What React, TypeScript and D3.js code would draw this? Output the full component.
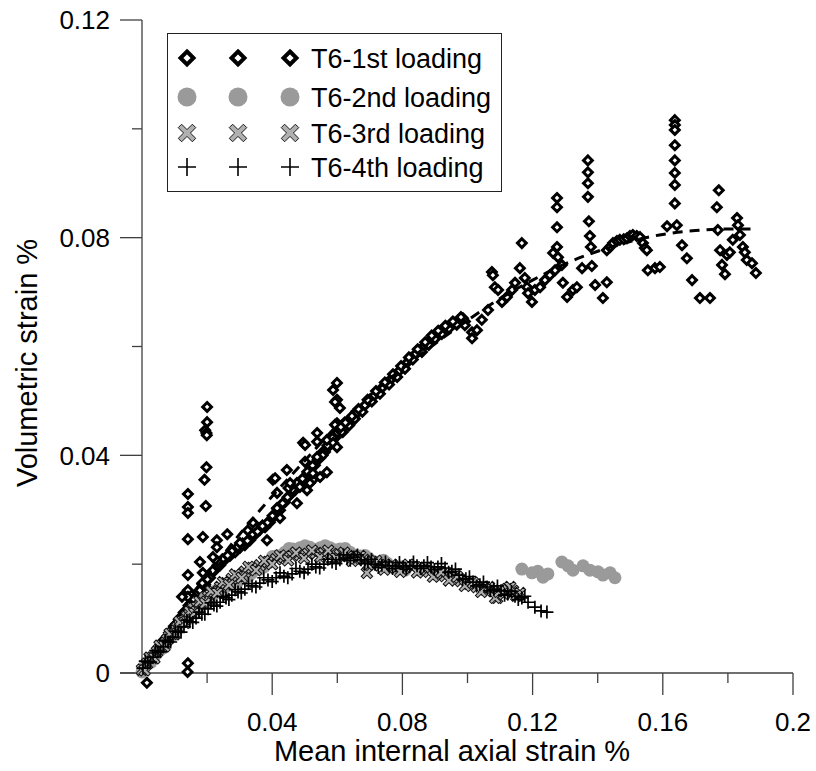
import React from "react";
import * as d3 from "d3";

// ---------- data ----------
const seriesNames = ["T6-1st loading", "T6-2nd loading", "T6-3rd loading", "T6-4th loading"];

const xMajorTicks = [0.04, 0.08, 0.12, 0.16, 0.2];
const xMinorTicks = [0.02, 0.06, 0.1, 0.14, 0.18];
const xTickLabels = ["0.04", "0.08", "0.12", "0.16", "0.2"];
const yMajorTicks = [0, 0.04, 0.08, 0.12];
const yMinorTicks = [0.02, 0.06, 0.1];
const yTickLabels = ["0", "0.04", "0.08", "0.12"];

// T6-1st loading (diamonds)
const load1X = [
  0.0015, 0.0005, 0.0015, 0.003, 0.0045, 0.006, 0.0075, 0.009, 0.0105, 0.012, 0.0135, 0.015, 0.0165, 0.018, 0.014, 0.0141,
  0.001, 0.0022, 0.0038, 0.0052, 0.0068, 0.0083, 0.0098, 0.0113, 0.0128, 0.0143, 0.0158, 0.0172,
  0.0178, 0.0194, 0.0209, 0.0224, 0.024, 0.0255, 0.027, 0.0286, 0.0301, 0.0316, 0.0332, 0.0347, 0.0362, 0.0378, 0.0393,
  0.0409, 0.0424, 0.0439, 0.0455, 0.047, 0.0485, 0.0501, 0.0516, 0.0531, 0.0547, 0.0562, 0.0578, 0.0593,
  0.0186, 0.0217, 0.0247, 0.0278, 0.0309, 0.034, 0.037, 0.0401, 0.0432, 0.0462, 0.0493, 0.0524, 0.0555, 0.0585, 0.06,
  0.0201, 0.0232, 0.0263, 0.0293, 0.0324, 0.0355, 0.0385, 0.0416, 0.0447, 0.0478, 0.0509, 0.054, 0.057,
  0.0185, 0.0232, 0.0262, 0.0295, 0.0325, 0.037, 0.0415, 0.045, 0.0508, 0.0555,
  0.02, 0.02, 0.0194, 0.0198, 0.0199, 0.0198, 0.0192, 0.0196, 0.0187, 0.0178, 0.0187,
  0.0141, 0.0141, 0.0141, 0.0141, 0.0141, 0.0141, 0.0141, 0.0141, 0.0123,
  0.0402, 0.0445, 0.0415, 0.0476, 0.0495, 0.0501, 0.0538, 0.0538, 0.0547, 0.0568, 0.0587, 0.0599, 0.0599, 0.0599, 0.0587,
  0.0476, 0.0507, 0.0525, 0.0384, 0.0341, 0.0415, 0.0301, 0.023, 0.023, 0.0218, 0.0593, 0.0608, 0.0593, 0.0617, 0.0501,
  0.0568, 0.0599, 0.0409, 0.0525, 0.0455, 0.0485, 0.0516, 0.0424, 0.0538,
  0.0608, 0.0619, 0.063, 0.0639, 0.0648, 0.0659, 0.067, 0.0685, 0.07, 0.0712, 0.0725, 0.0739, 0.0753, 0.0765, 0.0777,
  0.079, 0.0802, 0.0814, 0.0826, 0.084, 0.0854, 0.0865, 0.0875, 0.0885, 0.0894, 0.0905, 0.0915, 0.0926, 0.0937, 0.0949,
  0.0961, 0.0974, 0.0986,
  0.0614, 0.0636, 0.0654, 0.0677, 0.0706, 0.0731, 0.0759, 0.0784, 0.0808, 0.0832, 0.086, 0.0881, 0.09, 0.0921, 0.0943,
  0.0967, 0.0992,
  0.0611, 0.0625, 0.0645, 0.0665, 0.0693, 0.0719, 0.0746, 0.0771, 0.0796, 0.082, 0.0847, 0.087, 0.089, 0.091, 0.0932,
  0.0955, 0.098,
  0.0992, 0.1014, 0.1029, 0.1014, 0.1044, 0.1063, 0.1075, 0.1078, 0.1084, 0.1094, 0.1106, 0.1121, 0.1137, 0.1146, 0.1161,
  0.1167, 0.1176, 0.1183, 0.1186, 0.1198, 0.1207, 0.1223, 0.1238, 0.1253, 0.1269, 0.1263, 0.1275, 0.1275, 0.1275, 0.1275,
  0.1278, 0.129, 0.1293, 0.1306, 0.1324, 0.1336, 0.1352, 0.137, 0.137, 0.137, 0.137, 0.1373, 0.1376, 0.1379, 0.1382,
  0.1392, 0.1416, 0.1428,
  0.1428, 0.1438, 0.1447, 0.1459, 0.1468, 0.148, 0.149, 0.1499, 0.1508, 0.152, 0.153, 0.1539, 0.1545, 0.1551,
  0.1554, 0.1576, 0.1591, 0.1613, 0.1643, 0.1659, 0.1674, 0.169, 0.1714, 0.1745,
  0.1637, 0.1637, 0.1637, 0.1637, 0.1637, 0.1637, 0.1637, 0.1637,
  0.1772, 0.1766, 0.1769, 0.1776, 0.1782, 0.1791, 0.1797, 0.1806, 0.1815, 0.1828, 0.1831, 0.1837, 0.1846, 0.1852, 0.1858,
  0.1874, 0.1886,
];
const load1Y = [
  -0.0018, 0.0004, 0.0015, 0.0027, 0.004, 0.0052, 0.0065, 0.0077, 0.009, 0.0102, 0.0115, 0.0128, 0.014, 0.0152, 0.0002, 0.0018,
  0.0012, 0.0024, 0.0036, 0.0049, 0.0061, 0.0074, 0.0086, 0.0099, 0.0111, 0.0124, 0.0136, 0.0148,
  0.0152, 0.0162, 0.0175, 0.0189, 0.0198, 0.0208, 0.0215, 0.0222, 0.023, 0.0235, 0.0244, 0.0254, 0.0263, 0.0268, 0.0277,
  0.029, 0.0299, 0.0314, 0.0327, 0.0336, 0.0345, 0.0358, 0.0369, 0.0382, 0.0395, 0.0406, 0.0419, 0.0432,
  0.0163, 0.0188, 0.0209, 0.0225, 0.0238, 0.0255, 0.0271, 0.0289, 0.0312, 0.0337, 0.0357, 0.0381, 0.0406, 0.0432, 0.0442,
  0.0172, 0.0198, 0.0216, 0.023, 0.0243, 0.026, 0.0276, 0.0296, 0.0323, 0.0345, 0.0368, 0.0393, 0.0418,
  0.0165, 0.0205, 0.0255, 0.0232, 0.0262, 0.027, 0.0302, 0.034, 0.037, 0.04,
  0.0489, 0.0461, 0.0446, 0.0441, 0.0437, 0.0378, 0.0355, 0.0307, 0.025, 0.0204, 0.0184,
  0.0329, 0.0305, 0.0294, 0.0246, 0.018, 0.0152, 0.014, 0.0116, 0.014,
  0.0355, 0.0373, 0.0331, 0.0349, 0.0423, 0.0388, 0.0441, 0.0397, 0.036, 0.0369, 0.0423, 0.0459, 0.0502, 0.0533, 0.052,
  0.0312, 0.0336, 0.0355, 0.0244, 0.0276, 0.0303, 0.0239, 0.0244, 0.0231, 0.0213, 0.0498, 0.0487, 0.0456, 0.0443, 0.0419,
  0.0428, 0.0415, 0.0358, 0.0367, 0.0349, 0.0342, 0.0349, 0.0285, 0.0425,
  0.0446, 0.0452, 0.0459, 0.0464, 0.047, 0.0477, 0.0483, 0.0492, 0.0502, 0.0509, 0.0516, 0.0525, 0.0533, 0.054, 0.0547,
  0.0555, 0.0562, 0.057, 0.0579, 0.0586, 0.0593, 0.06, 0.0606, 0.0612, 0.0617, 0.0622, 0.0626, 0.0631, 0.0636, 0.064,
  0.0643, 0.0648, 0.0652,
  0.0443, 0.0455, 0.0467, 0.048, 0.0499, 0.0513, 0.053, 0.0544, 0.0559, 0.0576, 0.059, 0.0603, 0.0614, 0.0623, 0.0633,
  0.064, 0.0646,
  0.0452, 0.046, 0.0472, 0.0485, 0.0502, 0.0518, 0.0534, 0.0549, 0.0564, 0.058, 0.0595, 0.0608, 0.062, 0.0629, 0.0638,
  0.0646, 0.0654,
  0.0639, 0.0626, 0.063, 0.0615, 0.0649, 0.0667, 0.0737, 0.0731, 0.0709, 0.0704, 0.0682, 0.0691, 0.0704, 0.0717, 0.0744,
  0.079, 0.0726, 0.0709, 0.0698, 0.0682, 0.0704, 0.0709, 0.0722, 0.0731, 0.074, 0.0772, 0.0783, 0.0819, 0.0856, 0.0873,
  0.0764, 0.075, 0.0717, 0.0691, 0.0704, 0.0709, 0.0744, 0.0875, 0.09, 0.092, 0.0942, 0.083, 0.0803, 0.0783, 0.0748,
  0.0713, 0.0689, 0.0718,
  0.0777, 0.0783, 0.079, 0.0794, 0.0796, 0.0797, 0.0799, 0.0803, 0.0805, 0.0803, 0.0801, 0.079, 0.0781, 0.0777,
  0.074, 0.0744, 0.0746, 0.0821, 0.0823, 0.0786, 0.0762, 0.0722, 0.0689, 0.0689,
  0.1016, 0.1007, 0.0998, 0.097, 0.0942, 0.0919, 0.0897, 0.0863,
  0.0887, 0.0856, 0.0814, 0.0777, 0.075, 0.0733, 0.0768, 0.0773, 0.0796, 0.0836, 0.0823, 0.0805, 0.0783, 0.0773, 0.0759,
  0.0753, 0.0735,
];

// dashed trend of the 1st loading
const trendX = [0.016, 0.02, 0.03, 0.04, 0.05, 0.06, 0.07, 0.08, 0.09, 0.1, 0.11, 0.12, 0.13, 0.14, 0.15, 0.16, 0.17, 0.18, 0.188];
const trendY = [0.015, 0.018, 0.0255, 0.0325, 0.039, 0.0455, 0.051, 0.056, 0.0605, 0.0648, 0.0688, 0.0722, 0.0752, 0.0775, 0.0793, 0.0806, 0.0813, 0.0816, 0.0816];

// T6-2nd loading (grey circles)
const load2X = [
  0, 0.0018, 0.0037, 0.0055, 0.0074, 0.0092, 0.0111, 0.0129, 0.0147, 0.0166, 0.0184, 0.0203, 0.0221, 0.024, 0.0258, 0.0276,
  0.0295, 0.0316, 0.0338, 0.0362, 0.0387, 0.0415, 0.0439, 0.0464, 0.0485, 0.0516, 0.0547, 0.0578, 0.0608, 0.0639, 0.067,
  0.07, 0.0731, 0.0753, 0.0783, 0.0808,
  0.0009, 0.0028, 0.0046, 0.0065, 0.0083, 0.0102, 0.012, 0.0138, 0.0157, 0.0175, 0.0194, 0.0212, 0.0231, 0.0249, 0.0267,
  0.0286, 0.0306, 0.0327, 0.035, 0.0375, 0.0401, 0.0427, 0.0452, 0.0475, 0.0501, 0.0532, 0.0563, 0.0593, 0.0624, 0.0655,
  0.0685, 0.0716, 0.0742, 0.0768, 0.0796,
  0.1167, 0.1198, 0.1216, 0.1232, 0.1247,
  0.129, 0.1309, 0.1324, 0.1355, 0.1376, 0.1401, 0.1416, 0.1438, 0.1453,
];
const load2Y = [
  0.0002, 0.0017, 0.0029, 0.0042, 0.0055, 0.0068, 0.0081, 0.0094, 0.0107, 0.0118, 0.0129, 0.0138, 0.0145, 0.0152, 0.0158, 0.0164,
  0.0169, 0.0175, 0.0184, 0.0191, 0.0204, 0.0215, 0.0222, 0.0228, 0.023, 0.0231, 0.023, 0.023, 0.0228, 0.0222, 0.0215,
  0.0209, 0.0204, 0.0202, 0.0193, 0.0189,
  0.0014, 0.002, 0.004, 0.0046, 0.0066, 0.0072, 0.0092, 0.0098, 0.0117, 0.0121, 0.0138, 0.0139, 0.0153, 0.0152, 0.0165,
  0.0164, 0.0176, 0.0177, 0.0192, 0.0195, 0.0214, 0.0216, 0.0229, 0.0226, 0.0234, 0.0227, 0.0234, 0.0226, 0.0229, 0.0216,
  0.0216, 0.0204, 0.0207, 0.0195, 0.0195,
  0.0191, 0.0184, 0.0187, 0.0176, 0.0182,
  0.0204, 0.0197, 0.0189, 0.0197, 0.0189, 0.0186, 0.018, 0.0184, 0.0175,
];

// T6-3rd loading (crosses)
const load3X = [
  0, 0.0015, 0.0031, 0.0046, 0.0061, 0.0077, 0.0092, 0.0108, 0.0123, 0.0138, 0.0154, 0.0169, 0.0184, 0.0203, 0.0221, 0.024,
  0.0258, 0.0276, 0.0295, 0.0316, 0.0338, 0.0362, 0.0387, 0.0412, 0.0436, 0.0461, 0.0485, 0.051, 0.0534, 0.0559, 0.0584,
  0.0608, 0.0633, 0.0657, 0.0682, 0.0707, 0.0731, 0.0756, 0.078, 0.0805, 0.0832, 0.0857, 0.0882, 0.0906, 0.0931, 0.0955,
  0.098, 0.1004, 0.1029, 0.1054, 0.1078, 0.1091, 0.1103, 0.1121, 0.114, 0.1161, 0.0691,
  0.0008, 0.0023, 0.0038, 0.0054, 0.0069, 0.0085, 0.01, 0.0115, 0.0131, 0.0146, 0.0161, 0.0177, 0.0194, 0.0212, 0.0231,
  0.0249, 0.0267, 0.0286, 0.0306, 0.0327, 0.035, 0.0375, 0.04, 0.0424, 0.0449, 0.0473, 0.0498, 0.0522, 0.0547, 0.0572,
  0.0596, 0.0621, 0.0645, 0.067, 0.0695, 0.0719, 0.0744, 0.0768, 0.0793, 0.0819, 0.0845, 0.087, 0.0894, 0.0919, 0.0943,
  0.0968, 0.0992, 0.1017, 0.1042, 0.1066, 0.1085, 0.1097, 0.1112, 0.1131, 0.115,
];
const load3Y = [
  0.0006, 0.0017, 0.0028, 0.0039, 0.005, 0.0061, 0.0072, 0.0083, 0.0094, 0.0103, 0.0112, 0.0121, 0.013, 0.014, 0.0149, 0.0158,
  0.0165, 0.0173, 0.0178, 0.0186, 0.0193, 0.0198, 0.0204, 0.0209, 0.0213, 0.0215, 0.0217, 0.0219, 0.022, 0.022, 0.0219,
  0.0217, 0.0215, 0.0211, 0.0208, 0.0204, 0.0198, 0.0195, 0.0193, 0.0193, 0.0195, 0.0189, 0.0186, 0.0182, 0.0178, 0.0175,
  0.0169, 0.0164, 0.0158, 0.0154, 0.0151, 0.0138, 0.0149, 0.0154, 0.0151, 0.0147, 0.0184,
  0.0005, 0.0028, 0.0027, 0.005, 0.0049, 0.0072, 0.0071, 0.0094, 0.0092, 0.0113, 0.011, 0.0131, 0.0128, 0.015, 0.0147,
  0.0167, 0.0162, 0.0181, 0.0175, 0.0195, 0.0189, 0.0206, 0.02, 0.0216, 0.0207, 0.0221, 0.0211, 0.0225, 0.0213, 0.0225,
  0.0211, 0.0221, 0.0206, 0.0215, 0.0199, 0.0206, 0.019, 0.0199, 0.0186, 0.0199, 0.0185, 0.0193, 0.0177, 0.0185, 0.017,
  0.0177, 0.016, 0.0166, 0.0149, 0.0158, 0.0138, 0.0149, 0.0145, 0.0158, 0.0142,
];

// T6-4th loading (plus)
const load4X = [
  0.0003, 0.0018, 0.0034, 0.0049, 0.0065, 0.008, 0.0095, 0.0111, 0.0129, 0.0147, 0.0166, 0.0184, 0.0203, 0.0221, 0.024,
  0.0258, 0.0276, 0.0295, 0.0316, 0.0338, 0.0362, 0.0387, 0.0412, 0.0436, 0.0461, 0.0485, 0.051, 0.0534, 0.0559, 0.0584,
  0.0608, 0.063, 0.0651, 0.0673, 0.0694, 0.0716, 0.0737, 0.0759, 0.078, 0.0802, 0.0823, 0.0845, 0.0866, 0.0888, 0.0909,
  0.0931, 0.0952, 0.0974, 0.0995, 0.1017, 0.1038, 0.106, 0.1081, 0.1103, 0.1124, 0.1146, 0.1167, 0.1186, 0.1207, 0.1226,
  0.1244,
  0.001, 0.0026, 0.0042, 0.0057, 0.0072, 0.0088, 0.0103, 0.012, 0.0138, 0.0156, 0.0175, 0.0193, 0.0212, 0.023, 0.0249,
  0.0267, 0.0286, 0.0305, 0.0327, 0.035, 0.0374, 0.04, 0.0424, 0.0448, 0.0473, 0.0498, 0.0522, 0.0546, 0.0571, 0.0596,
  0.0619, 0.064, 0.0662, 0.0684, 0.0705, 0.0726, 0.0748, 0.077, 0.0791, 0.0812, 0.0834, 0.0856, 0.0877, 0.0898, 0.092,
  0.0942, 0.0963, 0.0985, 0.1006, 0.1028, 0.1049, 0.107, 0.1092, 0.1114, 0.1135, 0.1156, 0.1176,
];
const load4Y = [
  0.0009, 0.002, 0.0029, 0.0039, 0.0048, 0.0057, 0.0066, 0.0075, 0.0085, 0.0094, 0.0101, 0.0108, 0.0118, 0.0125, 0.013,
  0.0138, 0.0143, 0.0149, 0.0154, 0.016, 0.0165, 0.0171, 0.0175, 0.0178, 0.0182, 0.0187, 0.0191, 0.0195, 0.02, 0.0204,
  0.0208, 0.0211, 0.0213, 0.0208, 0.0204, 0.02, 0.0198, 0.0197, 0.0197, 0.0195, 0.0197, 0.0197, 0.0197, 0.0195, 0.0195,
  0.0193, 0.0187, 0.018, 0.0173, 0.0167, 0.0162, 0.0158, 0.0154, 0.0151, 0.0145, 0.0141, 0.0138, 0.013, 0.0121, 0.0114,
  0.0112,
  0.0022, 0.002, 0.0041, 0.0039, 0.006, 0.0057, 0.0077, 0.0075, 0.0097, 0.0093, 0.0112, 0.0108, 0.0129, 0.0123, 0.0141,
  0.0135, 0.0153, 0.0147, 0.0164, 0.0158, 0.0175, 0.0168, 0.0184, 0.0175, 0.0192, 0.0184, 0.02, 0.0193, 0.0209, 0.0201,
  0.0217, 0.0207, 0.0217, 0.0201, 0.0209, 0.0194, 0.0204, 0.0192, 0.0203, 0.0191, 0.0204, 0.0192, 0.0203, 0.019, 0.0201,
  0.0185, 0.0191, 0.0172, 0.0177, 0.016, 0.0167, 0.0151, 0.016, 0.0143, 0.015, 0.0135, 0.0141,
];

// ---------- layout ----------
const W = 816;
const H = 771;
const FONT = "'Liberation Sans', Arial, Helvetica, sans-serif";

const xScale = d3.scaleLinear().domain([0, 0.2]).range([142, 793]);
const yScale = d3.scaleLinear().domain([0, 0.12]).range([673, 20]);

const GREY = "#9a9a9a";
const AXIS = "#404040";

function Diamond({ cx, cy, r, sw }: { cx: number; cy: number; r: number; sw: number }) {
  return (
    <path
      d={`M${cx},${cy - r}L${cx + r},${cy}L${cx},${cy + r}L${cx - r},${cy}Z`}
      fill="#fff"
      stroke="#000"
      strokeWidth={sw}
    />
  );
}

function Cross({ cx, cy, s, a, sw }: { cx: number; cy: number; s: number; a: number; sw: number }) {
  const pts = [
    [-a, -s], [a, -s], [a, -a], [s, -a], [s, a], [a, a], [a, s], [-a, s], [-a, a], [-s, a], [-s, -a], [-a, -a],
  ];
  const d = "M" + pts.map((p) => p.join(",")).join("L") + "Z";
  return (
    <path
      d={d}
      transform={`translate(${cx},${cy}) rotate(45)`}
      fill="#b0b0b0"
      stroke="#111"
      strokeWidth={sw}
    />
  );
}

function Plus({ cx, cy, s, sw }: { cx: number; cy: number; s: number; sw: number }) {
  return (
    <path d={`M${cx - s},${cy}H${cx + s}M${cx},${cy - s}V${cy + s}`} stroke="#000" strokeWidth={sw} fill="none" />
  );
}

export default function App() {
  const trendLine = d3
    .line<number>()
    .x((_, i) => xScale(trendX[i]))
    .y((_, i) => yScale(trendY[i]))
    .curve(d3.curveMonotoneX)(trendX);

  const legendRowsY = [58, 97, 133, 167];
  const legendSymX = [187, 238, 290];

  const legendSymbol = (k: number, x: number, y: number, key: string) => {
    if (k === 0) return <Diamond key={key} cx={x} cy={y} r={6.5} sw={4} />;
    if (k === 1) return <circle key={key} cx={x} cy={y} r={9.5} fill={GREY} />;
    if (k === 2) return <Cross key={key} cx={x} cy={y} s={10} a={2.4} sw={0.9} />;
    return <Plus key={key} cx={x} cy={y} s={9} sw={1.6} />;
  };

  return (
    <svg
      width={W}
      height={H}
      viewBox={`0 0 ${W} ${H}`}
      style={{ position: "absolute", left: 0, top: 0, display: "block", background: "#fff" }}
      fontFamily={FONT}
    >
      <rect x={0} y={0} width={W} height={H} fill="#fff" />

      {/* axes */}
      <line x1={120} y1={yScale(0)} x2={xScale(0.2)} y2={yScale(0)} stroke={AXIS} strokeWidth={1.3} />
      <line x1={xScale(0)} y1={yScale(0.12)} x2={xScale(0)} y2={yScale(0)} stroke={AXIS} strokeWidth={1.3} />
      {yMajorTicks.map((t) => (
        <line key={"ym" + t} x1={120} x2={xScale(0)} y1={yScale(t)} y2={yScale(t)} stroke={AXIS} strokeWidth={1.3} />
      ))}
      {yMinorTicks.map((t) => (
        <line key={"yn" + t} x1={132} x2={xScale(0)} y1={yScale(t)} y2={yScale(t)} stroke={AXIS} strokeWidth={1.3} />
      ))}
      {xMajorTicks.map((t) => (
        <line key={"xm" + t} x1={xScale(t)} x2={xScale(t)} y1={yScale(0)} y2={yScale(0) + 22} stroke={AXIS} strokeWidth={1.3} />
      ))}
      {xMinorTicks.map((t) => (
        <line key={"xn" + t} x1={xScale(t)} x2={xScale(t)} y1={yScale(0)} y2={yScale(0) + 10} stroke={AXIS} strokeWidth={1.3} />
      ))}
      {yMajorTicks.map((t, i) => (
        <text key={"yl" + t} x={110} y={yScale(t)} dy="0.36em" textAnchor="end" fontSize={26} fill="#000">
          {yTickLabels[i]}
        </text>
      ))}
      {xMajorTicks.map((t, i) => (
        <text key={"xl" + t} x={xScale(t)} y={731} textAnchor="middle" fontSize={26} fill="#000">
          {xTickLabels[i]}
        </text>
      ))}
      <text x={452} y={761} textAnchor="middle" fontSize={29} fill="#000">
        Mean internal axial strain %
      </text>
      <text transform={`translate(37,363) rotate(-90)`} textAnchor="middle" fontSize={29} fill="#000">
        Volumetric strain %
      </text>

      {/* series 1 */}
      <g>
        {load1X.map((x, i) => (
          <Diamond key={"a" + i} cx={xScale(x)} cy={yScale(load1Y[i])} r={4.4} sw={3} />
        ))}
      </g>
      {/* series 2 */}
      <g>
        {load2X.map((x, i) => (
          <circle key={"b" + i} cx={xScale(x)} cy={yScale(load2Y[i])} r={6.5} fill={GREY} />
        ))}
      </g>
      {/* series 3 */}
      <g>
        {load3X.map((x, i) => (
          <Cross key={"c" + i} cx={xScale(x)} cy={yScale(load3Y[i])} s={6.5} a={1.6} sw={1} />
        ))}
      </g>
      {/* series 4 */}
      <g>
        {load4X.map((x, i) => (
          <Plus key={"d" + i} cx={xScale(x)} cy={yScale(load4Y[i])} s={6.5} sw={1.7} />
        ))}
      </g>

      {/* trend */}
      <path d={trendLine || ""} fill="none" stroke="#000" strokeWidth={3} strokeDasharray="10,7" />

      {/* legend */}
      <rect x={167.5} y={33.5} width={334} height={158} fill="#fff" stroke="#222" strokeWidth={1} />
      {seriesNames.map((name, k) => (
        <g key={name}>
          {legendSymX.map((x, j) => legendSymbol(k, x, legendRowsY[k], name + j))}
          <text x={311} y={legendRowsY[k]} dy="0.36em" fontSize={27} fill="#000">
            {name}
          </text>
        </g>
      ))}
    </svg>
  );
}
